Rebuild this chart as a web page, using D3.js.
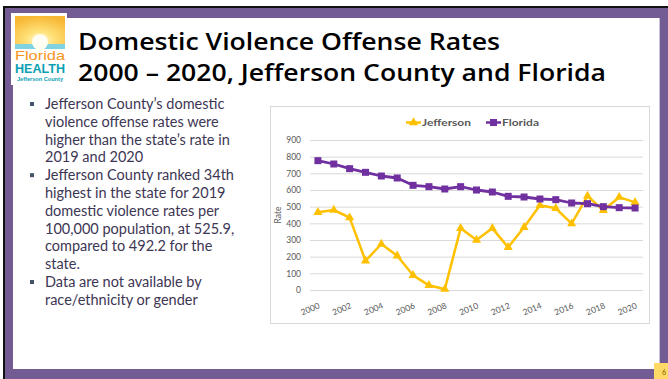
<!DOCTYPE html>
<html>
<head>
<meta charset="utf-8">
<script src="https://cdn.jsdelivr.net/npm/d3@7"></script>
<style>
  body { margin: 0; background: #fff; }
  svg { display: block; }
  .axis text { font-family: Lato, "Open Sans", sans-serif; fill: #595959; }
</style>
</head>
<body>
<div id="slide"></div>
<script>
// chart data
var years = ["2000","2001","2002","2003","2004","2005","2006","2007","2008","2009","2010",
             "2011","2012","2013","2014","2015","2016","2017","2018","2019","2020"];
var jefferson = [466, 480, 434, 175, 276, 205, 88, 28, 5, 370, 300,
                 370, 256, 376, 508, 490, 398, 564, 478, 557, 526];
var florida = [776, 756, 728, 706, 684, 672, 628, 620, 606, 620, 600,
               588, 562, 558, 546, 542, 522, 518, 500, 494, 492];
var yTicks = [0, 100, 200, 300, 400, 500, 600, 700, 800, 900];
var seriesNames = ["Jefferson", "Florida"];

var titleLines = ["Domestic Violence Offense Rates", "2000 \u2013 2020, Jefferson County and Florida"];
var bullets = [
    ["Jefferson County\u2019s domestic", "violence offense rates were", "higher than the state\u2019s rate in", "2019 and 2020"],
    ["Jefferson County ranked 34th", "highest in the state for 2019", "domestic violence rates per", "100,000 population, at 525.9,", "compared to 492.2 for the", "state."],
    ["Data are not available by", "race/ethnicity or gender"]
];

var W = 668, H = 379;
var purple = "#735b93";
var svg = d3.select("#slide").append("svg").attr("width", W).attr("height", H);

// slide frame
svg.append("rect").attr("x", 3).attr("y", 6).attr("width", W - 3).attr("height", H - 6).attr("fill", "#111");
svg.append("rect").attr("x", 5).attr("y", 8).attr("width", W - 5).attr("height", H - 8).attr("fill", purple);
svg.append("rect").attr("x", 13).attr("y", 18).attr("width", 646).attr("height", 351).attr("fill", "#fff");
svg.append("line").attr("x1", 659.5).attr("x2", 659.5).attr("y1", 18).attr("y2", 369).attr("stroke", "#c9c2d4");
svg.append("rect").attr("x", 654).attr("y", 363).attr("width", 14).attr("height", 16).attr("fill", "#ffd966");
svg.append("text").attr("x", 664).attr("y", 375).attr("font-size", 7).attr("font-family", "Lato, sans-serif")
    .attr("fill", "#7f6000").attr("text-anchor", "middle").text("6");

// logo
var defs = svg.append("defs");
var grad = defs.append("radialGradient").attr("id", "sun").attr("cx", "50%").attr("cy", "75%").attr("r", "75%");
grad.append("stop").attr("offset", "0%").attr("stop-color", "#fffbe0");
grad.append("stop").attr("offset", "35%").attr("stop-color", "#ffe27a");
grad.append("stop").attr("offset", "100%").attr("stop-color", "#f7b733");
var logo = svg.append("g").attr("class", "logo");
logo.append("rect").attr("x", 11).attr("y", 13).attr("width", 56).attr("height", 72).attr("fill", "#fff");
logo.append("rect").attr("x", 15).attr("y", 16).attr("width", 50).attr("height", 32).attr("fill", "url(#sun)");
logo.append("rect").attr("x", 15).attr("y", 44).attr("width", 50).attr("height", 5).attr("fill", "#7fd3e0");
logo.append("circle").attr("cx", 40).attr("cy", 42).attr("r", 8).attr("fill", "#fffef2");
logo.append("text").attr("x", 40).attr("y", 60).attr("text-anchor", "middle")
    .attr("font-family", "'Liberation Sans Narrow', 'Liberation Sans', sans-serif").attr("font-size", 13)
    .attr("fill", "#f7941d").attr("textLength", 50).attr("lengthAdjust", "spacingAndGlyphs").text("Florida");
logo.append("text").attr("x", 40).attr("y", 73).attr("text-anchor", "middle")
    .attr("font-family", "'Liberation Sans Narrow', 'Liberation Sans', sans-serif").attr("font-weight", "bold").attr("font-size", 12)
    .attr("fill", "#0b9fb3").attr("textLength", 50).attr("lengthAdjust", "spacingAndGlyphs").text("HEALTH");
logo.append("text").attr("x", 40).attr("y", 81).attr("text-anchor", "middle")
    .attr("font-family", "'Liberation Sans', sans-serif").attr("font-size", 5).attr("font-weight", "bold")
    .attr("fill", "#0b9fb3").attr("textLength", 46).attr("lengthAdjust", "spacingAndGlyphs").text("Jefferson County");

// title
var titleWidths = [422, 528];
svg.selectAll(".title").data(titleLines).join("text")
    .attr("class", "title")
    .attr("x", 78)
    .attr("y", function(d, i) { return 50 + i * 31; })
    .attr("font-family", "'Open Sans', sans-serif")
    .attr("font-weight", 600)
    .attr("font-size", 24)
    .attr("fill", "#000")
    .attr("textLength", function(d, i) { return titleWidths[i]; })
    .attr("lengthAdjust", "spacingAndGlyphs")
    .text(function(d) { return d; });

// bullets
var bg = svg.append("g").attr("class", "bullets");
var lineH = 17.8, yy = 109;
bullets.forEach(function(lines) {
    bg.append("rect").attr("x", 30).attr("y", yy - 7).attr("width", 4).attr("height", 4).attr("fill", "#44546a");
    lines.forEach(function(t) {
        bg.append("text").attr("x", 45).attr("y", yy)
            .attr("font-family", "Lato, sans-serif").attr("font-size", 14.5)
            .attr("fill", "#3d3654").text(t);
        yy += lineH;
    });
});

// chart box
svg.append("rect").attr("x", 270.5).attr("y", 106.5).attr("width", 379).attr("height", 217)
    .attr("fill", "#fff").attr("stroke", "#d9d9d9");

var x = d3.scalePoint().domain(years).range([310, 643]).padding(0.5);
var y = d3.scaleLinear().domain([0, 900]).range([290, 140]);

var yAxis = svg.append("g").attr("class", "axis")
    .attr("transform", "translate(310,0)")
    .call(d3.axisLeft(y).tickValues(yTicks).tickSize(-333).tickPadding(9));
yAxis.select(".domain").remove();
yAxis.selectAll(".tick line").attr("stroke", "#d9d9d9");
yAxis.selectAll(".tick text").attr("font-size", 8.5);

var xAxis = svg.append("g").attr("class", "axis")
    .attr("transform", "translate(0,290)")
    .call(d3.axisBottom(x).tickSize(0).tickFormat(function(d, i) { return i % 2 === 0 ? d : ""; }));
xAxis.select(".domain").remove();
xAxis.selectAll(".tick text")
    .attr("font-size", 8.5)
    .attr("text-anchor", "end")
    .attr("dy", 0)
    .attr("y", 0)
    .attr("transform", "translate(2,18) rotate(-22)");

svg.append("text").attr("class", "axis")
    .attr("transform", "translate(281,215) rotate(-90)")
    .attr("text-anchor", "middle")
    .attr("font-family", "Lato, sans-serif").attr("font-size", 8.5).attr("fill", "#595959")
    .text("Rate");

// lines
var line = d3.line()
    .x(function(d, i) { return x(years[i]); })
    .y(function(d) { return y(d); });

svg.append("path").datum(jefferson).attr("d", line)
    .attr("fill", "none").attr("stroke", "#ffc000").attr("stroke-width", 2.5).attr("stroke-linejoin", "round");
svg.append("path").datum(florida).attr("d", line)
    .attr("fill", "none").attr("stroke", "#7030a0").attr("stroke-width", 2.8).attr("stroke-linejoin", "round");

var tri = d3.symbol().type(d3.symbolTriangle).size(36);
svg.append("g").selectAll("path").data(jefferson).join("path")
    .attr("d", tri)
    .attr("transform", function(d, i) { return "translate(" + x(years[i]) + "," + y(d) + ")"; })
    .attr("fill", "#ffc000");

svg.append("g").selectAll("rect").data(florida).join("rect")
    .attr("x", function(d, i) { return x(years[i]) - 3.5; })
    .attr("y", function(d) { return y(d) - 3.5; })
    .attr("width", 7).attr("height", 7)
    .attr("fill", "#7030a0");

// legend
var legendX = [406, 486], legendW = [49, 37];
var lg = svg.append("g").attr("class", "legend");
seriesNames.forEach(function(name, i) {
    var lx = legendX[i], ly = 122.5;
    var col = i === 0 ? "#ffc000" : "#7030a0";
    lg.append("line").attr("x1", lx).attr("x2", lx + 15).attr("y1", ly).attr("y2", ly)
        .attr("stroke", col).attr("stroke-width", 2.5);
    if (i === 0) {
        lg.append("path").attr("d", tri).attr("transform", "translate(" + (lx + 7.5) + "," + ly + ")").attr("fill", col);
    } else {
        lg.append("rect").attr("x", lx + 4).attr("y", ly - 3.5).attr("width", 7).attr("height", 7).attr("fill", col);
    }
    lg.append("text").attr("x", lx + 16).attr("y", ly + 3.5)
        .attr("font-family", "Lato, sans-serif").attr("font-size", 10).attr("font-weight", "bold")
        .attr("fill", "#595959").attr("textLength", legendW[i]).attr("lengthAdjust", "spacingAndGlyphs")
        .text(name);
});
</script>
</body>
</html>
